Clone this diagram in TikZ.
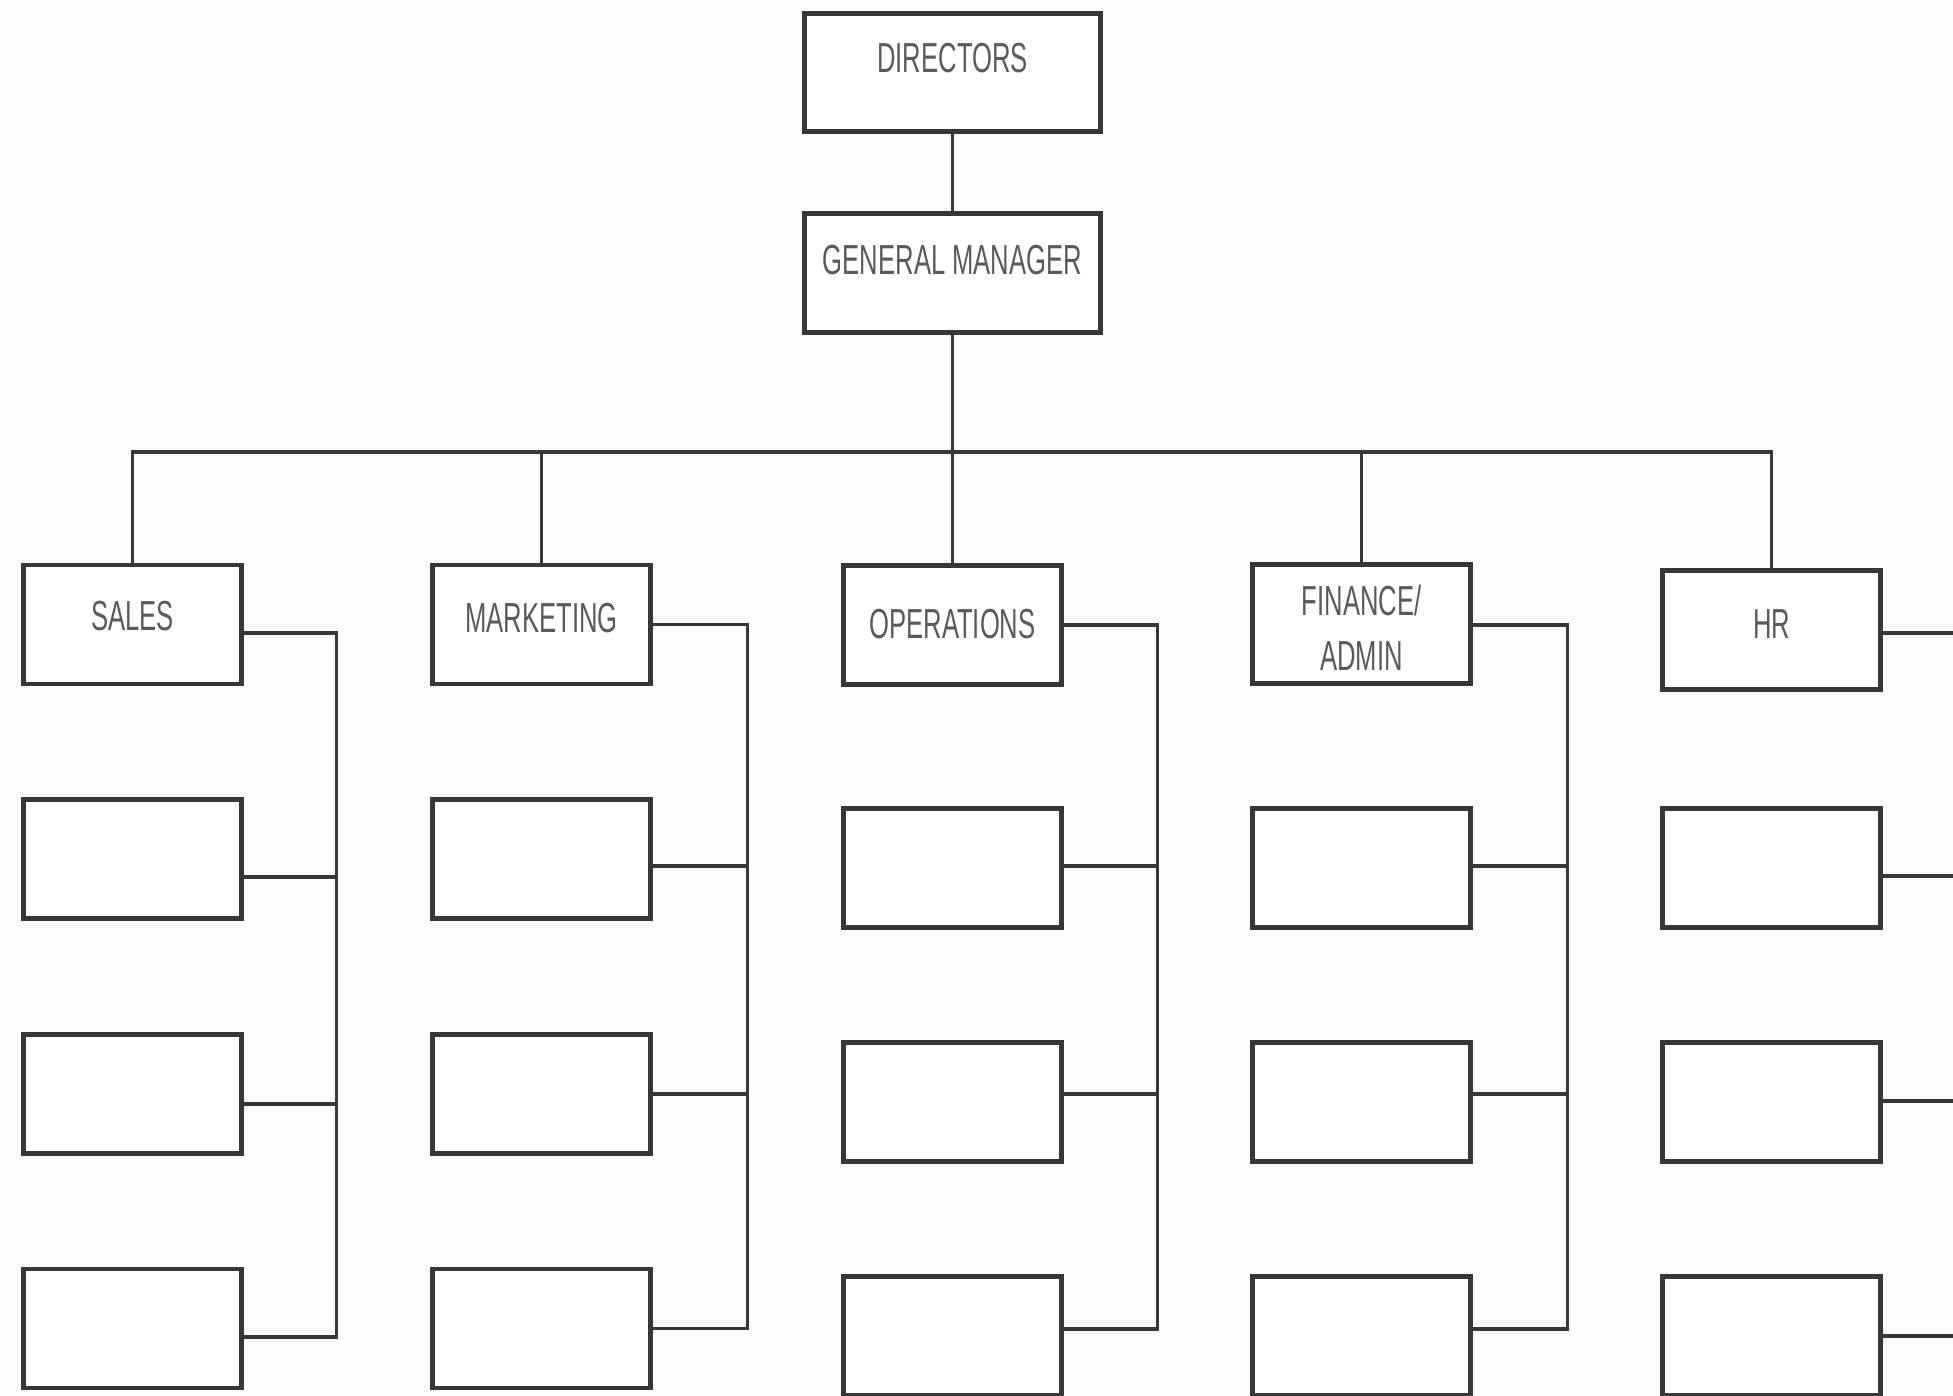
\documentclass[tikz,border=0pt]{standalone}
\usepackage{fontspec}
\setmainfont{Liberation Sans}[FakeStretch=0.61]
\definecolor{ln}{RGB}{55,55,55}
\definecolor{tx}{RGB}{90,90,90}
\definecolor{bg}{RGB}{252,252,252}
\begin{document}
\begin{tikzpicture}[x=1pt,y=-1pt,
  box/.style={draw=ln, line width=4.3pt, fill=white, minimum width=218pt, minimum height=119pt, inner sep=0pt},
  bigbox/.style={box, minimum width=296pt},
  txt/.style={text=tx, font=\fontsize{42}{55}\selectfont, inner sep=0pt, align=center},
  conn/.style={draw=ln, line width=3.6pt, line join=miter}]
\fill[bg] (0,0) rectangle (1953,1396);
\useasboundingbox (0,0) rectangle (1953,1396);

% top
\node[bigbox, minimum height=118pt, label={[txt,yshift=14pt]center:DIRECTORS}] (d) at (952.5,72.5) {};
\node[bigbox, label={[txt,yshift=13pt]center:GENERAL MANAGER}] (g) at (952.5,273) {};

% sales
\node[box, label={[txt,yshift=8pt]center:SALES}] (s0) at (132.5,624.5) {};
\node[box] (s1) at (132.5,859) {};
\node[box] (s2) at (132.5,1094) {};
\node[box] (s3) at (132.5,1328.5) {};
% marketing
\node[box, label={[txt,yshift=6pt]center:MARKETING}] (m0) at (541.5,624.5) {};
\node[box] (m1) at (541.5,859) {};
\node[box] (m2) at (541.5,1094) {};
\node[box] (m3) at (541.5,1328.5) {};
% operations
\node[box, label={[txt,yshift=1pt]center:OPERATIONS}] (o0) at (952.5,625) {};
\node[box] (o1) at (952.5,868) {};
\node[box] (o2) at (952.5,1102) {};
\node[box] (o3) at (952.5,1336) {};
% finance
\node[box, label={[txt,yshift=-4pt]center:FINANCE/\\ADMIN}] (f0) at (1361.5,624) {};
\node[box] (f1) at (1361.5,868) {};
\node[box] (f2) at (1361.5,1102) {};
\node[box] (f3) at (1361.5,1336) {};
% hr
\node[box, label={[txt,yshift=6pt]center:HR}] (h0) at (1771.5,630) {};
\node[box] (h1) at (1771.5,868) {};
\node[box] (h2) at (1771.5,1102) {};
\node[box] (h3) at (1771.5,1336) {};

\coordinate (bus) at (952.5,452);
\coordinate (re) at (1965,0);

% hierarchy
\draw[conn] (d.south) -- (g.north);
\draw[conn] (g.south) -- (o0.north);
\draw[conn] (s0.north) |- (bus) -| (h0.north);
\draw[conn] (m0.north) -- (m0.north |- bus);
\draw[conn] (f0.north) -- (f0.north |- bus);

% sales bracket
\draw[conn] ([yshift=-8.5pt]s0.east) -- ++(93,0) |- ([yshift=-8.5pt]s3.east);
\draw[conn] ([yshift=-18pt]s1.east) -- ++(93,0);
\draw[conn] ([yshift=-10pt]s2.east) -- ++(93,0);
% marketing bracket
\draw[conn] (m0.east) -- ++(95,0) |- (m3.east);
\draw[conn] ([yshift=-7pt]m1.east) -- ++(95,0);
\draw[conn] (m2.east) -- ++(95,0);
% operations bracket
\draw[conn] (o0.east) -- ++(94,0) |- ([yshift=7pt]o3.east);
\draw[conn] ([yshift=2pt]o1.east) -- ++(94,0);
\draw[conn] ([yshift=8pt]o2.east) -- ++(94,0);
% finance bracket
\draw[conn] ([yshift=-1pt]f0.east) -- ++(95,0) |- ([yshift=7pt]f3.east);
\draw[conn] ([yshift=2pt]f1.east) -- ++(95,0);
\draw[conn] ([yshift=8pt]f2.east) -- ++(95,0);
% hr lines to the edge
\draw[conn] ([yshift=-3pt]h0.east) -- ([yshift=-3pt]h0.east -| re);
\draw[conn] ([yshift=-8pt]h1.east) -- ([yshift=-8pt]h1.east -| re);
\draw[conn] ([yshift=1pt]h2.east) -- ([yshift=1pt]h2.east -| re);
\draw[conn] (h3.east) -- (h3.east -| re);
\end{tikzpicture}
\end{document}
